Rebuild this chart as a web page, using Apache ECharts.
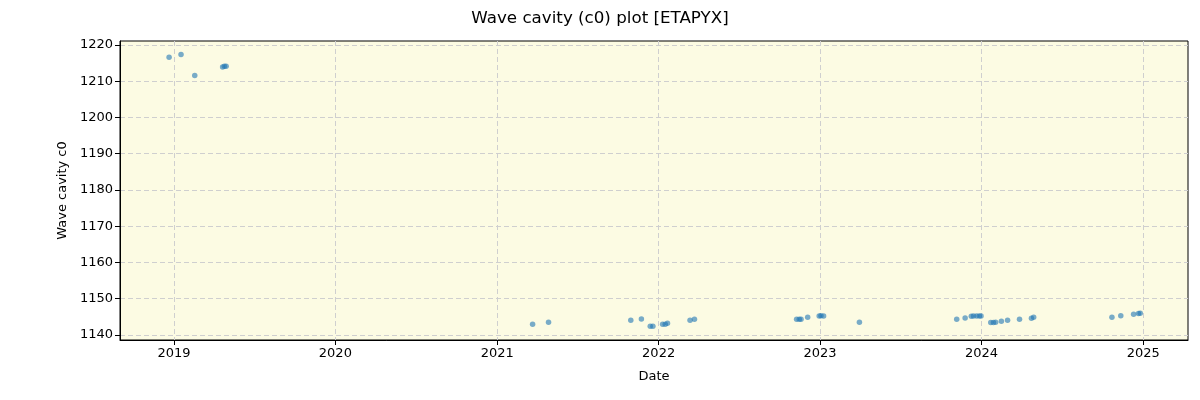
<!DOCTYPE html>
<html>
<head>
<meta charset="utf-8">
<script src="https://cdn.jsdelivr.net/npm/echarts@6/dist/echarts.min.js"></script>
<style>html,body{margin:0;padding:0;background:#fff}#c{width:1200px;height:400px}</style>
</head>
<body>
<div id="c"></div>
<script>
const dates = [
  '2018-12-21','2019-01-17','2019-02-17','2019-04-21','2019-04-25','2019-04-29',
  '2021-03-22','2021-04-27','2021-10-30','2021-11-23','2021-12-13','2021-12-19',
  '2022-01-10','2022-01-16','2022-01-21','2022-03-13','2022-03-23',
  '2022-11-09','2022-11-15','2022-11-19','2022-12-04','2022-12-30','2023-01-03','2023-01-09','2023-03-31',
  '2023-11-06','2023-11-25','2023-12-09','2023-12-14','2023-12-21','2023-12-27','2023-12-31',
  '2024-01-22','2024-01-28','2024-02-02','2024-02-15','2024-02-29','2024-03-27','2024-04-23','2024-04-28',
  '2024-10-22','2024-11-11','2024-12-10','2024-12-21','2024-12-25'
];
const c0Values = [
  1216.6,1217.4,1211.6,1213.9,1214.1,1214.1,
  1142.95,1143.5,1144.05,1144.4,1142.4,1142.4,
  1142.95,1142.95,1143.2,1144.05,1144.3,
  1144.3,1144.3,1144.3,1144.9,1145.25,1145.3,1145.25,1143.5,
  1144.3,1144.7,1145.15,1145.25,1145.25,1145.25,1145.25,
  1143.4,1143.4,1143.5,1143.8,1144.05,1144.3,1144.6,1144.9,
  1144.9,1145.3,1145.7,1145.9,1146.0
];
const yTicks = [1140,1150,1160,1170,1180,1190,1200,1210,1220];
const xRange = ['2018-09-01','2025-04-12'];
const yRange = [1138.6, 1221.1];

const chart = echarts.init(document.getElementById('c'), null, {renderer:'canvas'});
const font = 'DejaVu Sans';
chart.setOption({
  animation:false,
  backgroundColor:'#ffffff',
  title:{text:'Wave cavity (c0) plot [ETAPYX]', left:'center', top:5,
    textStyle:{fontFamily:font, fontSize:16.7, fontWeight:'normal', color:'#000'}},
  grid:{left:120, right:12, top:41, bottom:60, show:true, backgroundColor:'#FCFBE3',
    borderColor:'#000', borderWidth:1},
  xAxis:{type:'time', min:xRange[0], max:xRange[1], splitNumber:7,
    name:'Date', nameLocation:'middle', nameGap:30,
    nameTextStyle:{fontFamily:font, fontSize:13, color:'#000'},
    axisLine:{show:true, lineStyle:{color:'#000'}},
    axisTick:{show:true, length:5, lineStyle:{color:'#000'}},
    minorTick:{show:false},
    axisLabel:{fontFamily:font, fontSize:13, color:'#000', formatter:'{yyyy}', margin:7, hideOverlap:false},
    splitLine:{show:true, showMinLine:false, showMaxLine:false, lineStyle:{color:'#cfcfcf', type:[5,3], width:1}}
  },
  yAxis:{type:'value', min:yRange[0], max:yRange[1],
    name:'Wave cavity c0', nameLocation:'middle', nameGap:50,
    nameTextStyle:{fontFamily:font, fontSize:13, color:'#000'},
    axisLine:{show:true, lineStyle:{color:'#000'}},
    axisLabel:{fontFamily:font, fontSize:13, color:'#000', margin:7,
      customValues: yTicks, formatter: v => String(v)},
    axisTick:{show:true, length:5, lineStyle:{color:'#000'}, customValues: yTicks},
    splitLine:{show:true, lineStyle:{color:'#cfcfcf', type:[5,3], width:1}}
  },
  series:[{
    type:'scatter', symbolSize:5.5,
    itemStyle:{color:'#1f77b4', opacity:0.6},
    data: dates.map((d,i)=>[d, c0Values[i]])
  }]
});
</script>
</body>
</html>
